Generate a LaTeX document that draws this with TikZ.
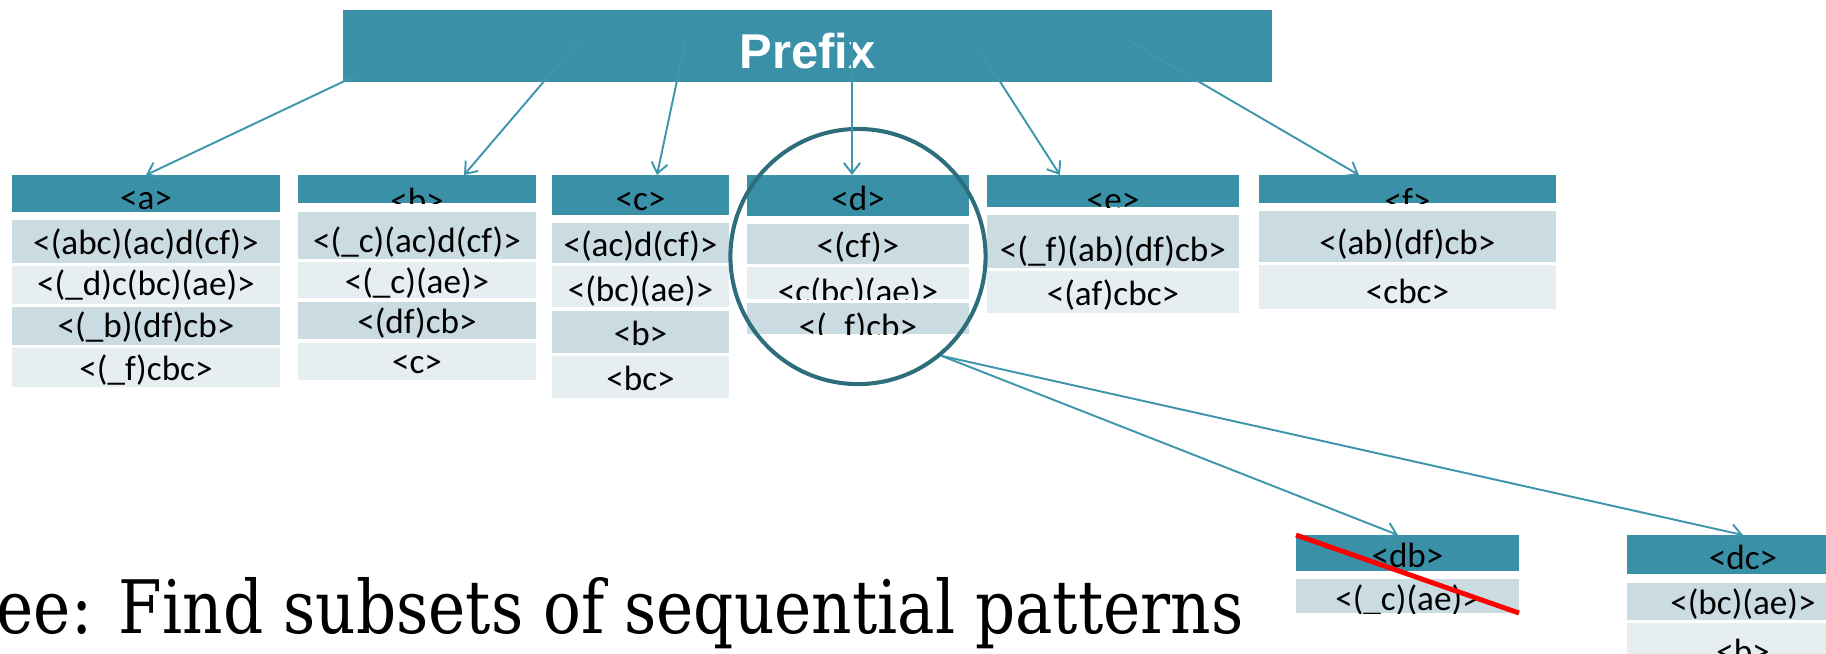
\documentclass[tikz,border=0pt]{standalone}
\usepackage{fontspec}
\usepackage{graphicx}
\usetikzlibrary{arrows.meta}

\newfontfamily\cellfont{Carlito}
\newfontfamily\headfont{Liberation Sans}
\newfontfamily\notefont{DejaVu Serif}

\definecolor{hdrteal}{HTML}{3A91A7}
\definecolor{rowdark}{HTML}{CBDBE2}
\definecolor{rowlight}{HTML}{E6EEF1}
\definecolor{ringteal}{HTML}{2D6D7C}
\definecolor{linkteal}{HTML}{3F96AC}

% cell: name, style, left, top, right, bottom, baseline, text (all in px)
\newcommand\seqcell[8]{%
  \node[#2, minimum width={(#5-#3)*0.01cm}, minimum height={(#6-#4)*0.01cm},
    path picture={\node[seqtext] at ([yshift={(#6-#7)*0.01cm}]path picture bounding box.south) {#8};}]
    (#1) at (#3,#4) {};%
}

\begin{document}
\begin{tikzpicture}[x=0.01cm, y=-0.01cm,
    seqcell/.style={rectangle, inner sep=0pt, outer sep=0pt, anchor=north west},
    seqhead/.style={seqcell, fill=hdrteal},
    seqdark/.style={seqcell, fill=rowdark},
    seqlight/.style={seqcell, fill=rowlight},
    seqtext/.style={font=\cellfont\fontsize{10pt}{12pt}\selectfont, inner sep=0pt, anchor=base},
    flow/.style={-{Straight Barb[length=3pt, width=4.6pt]}, draw=linkteal, line width=0.55pt},
    strike/.style={draw=red, line width=1.4pt},
]
\useasboundingbox (0,0) rectangle (1826,653);
\clip (0,0) rectangle (1826,653);

\seqcell{prefix}{seqhead}{343}{10}{1272}{82}{68}{\headfont\bfseries\fontsize{13.9pt}{16pt}\selectfont\color{white}Prefix}

% projected databases
\seqcell{ha}{seqhead}{12}{175}{280}{212}{209}{<a>}
\seqcell{a1}{seqdark}{12}{220}{280}{263}{254}{<(abc)(ac)d(cf)>}
\seqcell{a2}{seqlight}{12}{266}{280}{304}{295}{<(\_d)c(bc)(ae)>}
\seqcell{a3}{seqdark}{12}{307}{280}{345}{337}{<(\_b)(df)cb>}
\seqcell{a4}{seqlight}{12}{348}{280}{387}{380}{<(\_f)cbc>}

\seqcell{hb}{seqhead}{298}{175}{536}{203}{212}{<b>}
\seqcell{b1}{seqdark}{298}{212}{536}{259}{252}{<(\_c)(ac)d(cf)>}
\seqcell{b2}{seqlight}{298}{262}{536}{298}{293}{<(\_c)(ae)>}
\seqcell{b3}{seqdark}{298}{302}{536}{339}{333}{<(df)cb>}
\seqcell{b4}{seqlight}{298}{343}{536}{380}{373}{<c>}

\seqcell{hc}{seqhead}{552}{175}{729}{215}{210}{<c>}
\seqcell{c1}{seqdark}{552}{223}{729}{263}{256}{<(ac)d(cf)>}
\seqcell{c2}{seqlight}{552}{266}{729}{307}{301}{<(bc)(ae)>}
\seqcell{c3}{seqdark}{552}{311}{729}{353}{345}{<b>}
\seqcell{c4}{seqlight}{552}{356}{729}{398}{390}{<bc>}

\seqcell{hd}{seqhead}{747}{175}{969}{216}{210}{<d>}
\seqcell{d1}{seqdark}{747}{224}{969}{264}{257}{<(cf)>}
\seqcell{d2}{seqlight}{747}{267}{969}{299}{303}{<c(bc)(ae)>}
\seqcell{d3}{seqdark}{747}{303}{969}{334}{338}{<(\_f)cb>}

\seqcell{he}{seqhead}{987}{175}{1239}{207}{211}{<e>}
\seqcell{e1}{seqdark}{987}{215}{1239}{268}{261}{<(\_f)(ab)(df)cb>}
\seqcell{e2}{seqlight}{987}{271}{1239}{313}{305}{<(af)cbc>}

\seqcell{hf}{seqhead}{1259}{175}{1556}{203}{212}{<f>}
\seqcell{f1}{seqdark}{1259}{211}{1556}{262}{254}{<(ab)(df)cb>}
\seqcell{f2}{seqlight}{1259}{265}{1556}{309}{303}{<cbc>}

\seqcell{hdb}{seqhead}{1296}{535}{1519}{571}{567}{<db>}
\seqcell{db1}{seqdark}{1296}{579}{1519}{613}{610}{<(\_c)(ae)>}

\seqcell{hdc}{seqhead}{1627}{535}{1859}{574}{569}{<dc>}
\seqcell{dc1}{seqdark}{1627}{583}{1859}{620}{614}{<(bc)(ae)>}
\seqcell{dc2}{seqlight}{1627}{623}{1859}{663}{663}{<b>}

\node[circle, draw=ringteal, line width=1.15pt, minimum size=2.55cm, inner sep=0pt] (focus) at (858,256.5) {};

\node[anchor=base west, inner sep=0pt] (caption) at (-4,633) {\resizebox{12.46cm}{0.56cm}{\notefont ee: Find subsets of sequential patterns}};

% arrows out of the prefix box
\coordinate (pa) at (372,68);
\coordinate (pb) at (581,38);
\coordinate (pc) at (686,38);
\coordinate (pd) at (852,38);
\coordinate (pe) at (972,38);
\coordinate (pf) at (1124,38);

\draw[flow] (pa) -- (ha.north);
\draw[flow] (pb) -- ([xshift=0.47cm]hb.north);
\draw[flow] (pc) -- ([xshift=0.165cm]hc.north);
\draw[flow] (pd) -- ([xshift=-0.06cm]hd.north);
\draw[flow] (pe) -- ([xshift=-0.53cm]he.north);
\draw[flow] (pf) -- ([xshift=-0.485cm]hf.north);

\draw[flow] (focus.310) -- ([xshift=-0.095cm]hdb.north);
\draw[flow] (focus.310) -- (hdc.north);

\draw[strike] (hdb.north west) -- (db1.south east);

\end{tikzpicture}
\end{document}
